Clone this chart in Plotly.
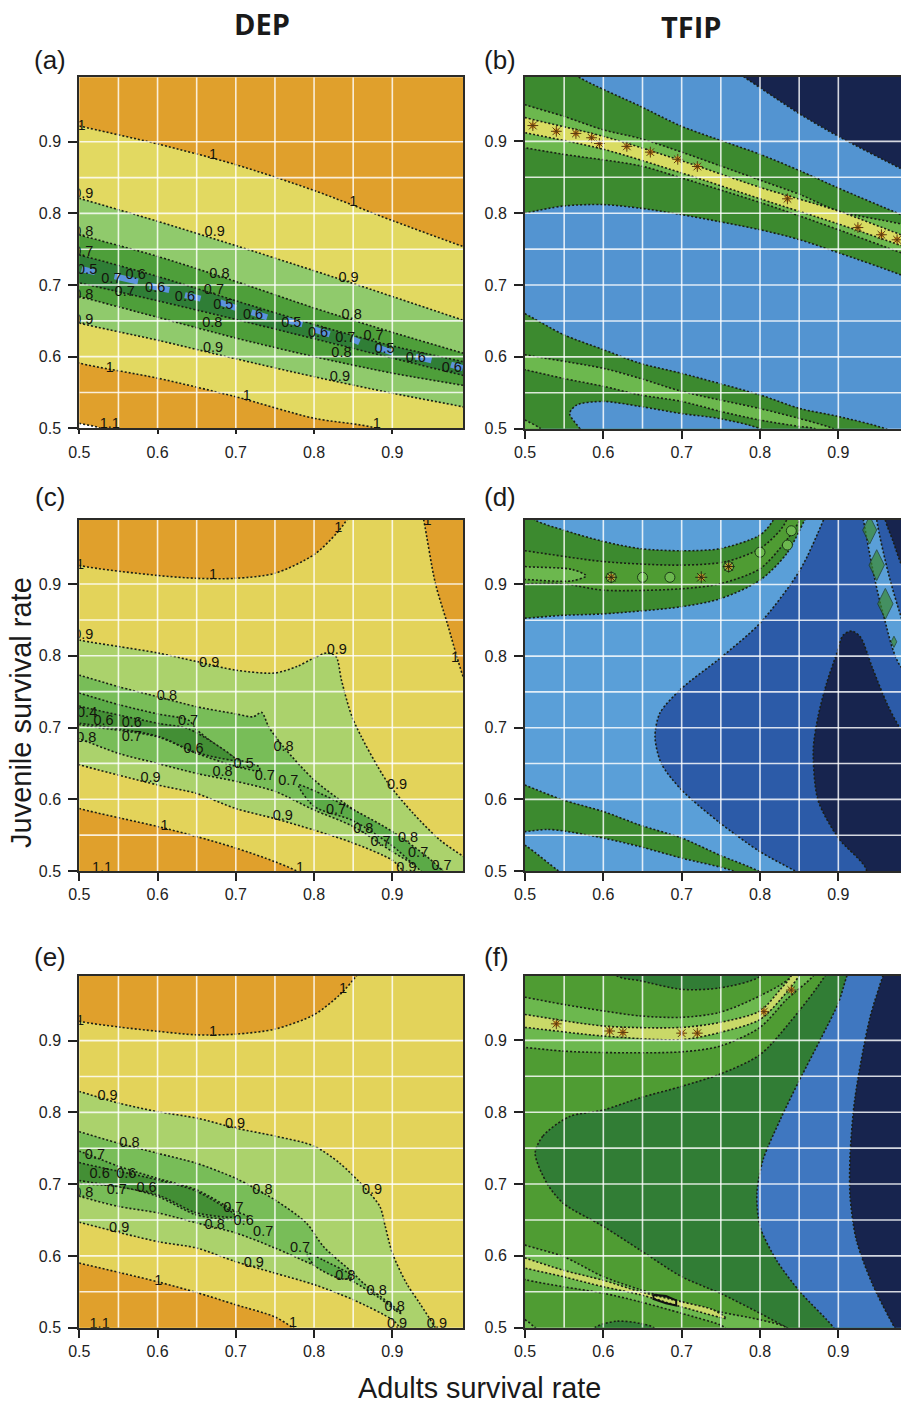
import plotly.graph_objects as go

# ---------- tick labels and text ----------
TICKS = [0.5, 0.6, 0.7, 0.8, 0.9]
GRID = [0.55, 0.6, 0.65, 0.7, 0.75, 0.8, 0.85, 0.9]
RECT = [(0.3, 0.3), (1.2, 0.3), (1.2, 1.2), (0.3, 1.2)]

# ---------- panel (a) contour lines ----------
A_1_UP = [(.46,.932),(.5,.922),(.6,.897),(.7,.868),(.8,.832),(.9,.79),(.99,.754),(1.03,.74)]
A_1_LO = [(.46,.605),(.5,.591),(.6,.57),(.7,.544),(.8,.514),(.88,.5),(1.05,.43)]
A_9_UP = [(.46,.833),(.5,.821),(.6,.789),(.7,.755),(.8,.72),(.9,.684),(.99,.651),(1.03,.636)]
A_9_LO = [(.46,.66),(.5,.647),(.6,.623),(.7,.597),(.8,.572),(.9,.549),(.99,.53),(1.03,.52)]
A_8_UP = [(.46,.782),(.5,.77),(.6,.74),(.7,.705),(.8,.668),(.9,.634),(.99,.605),(1.03,.592)]
A_8_LO = [(.46,.695),(.5,.684),(.6,.655),(.7,.626),(.8,.6),(.9,.577),(.99,.56),(1.03,.552)]
A_7_UP = [(.46,.752),(.5,.742),(.6,.712),(.7,.678),(.8,.645),(.9,.615),(.99,.593),(1.03,.582)]
A_7_LO = [(.46,.712),(.5,.703),(.6,.678),(.7,.652),(.8,.625),(.9,.598),(.99,.574),(1.03,.564)]
A_CORNER = [(.46,.52),(.5,.507),(.527,.5),(.55,.48),(.46,.48)]
A_SPOTS = [(.503,.722,.52,.718),(.545,.712,.575,.705),(.59,.699,.615,.693),(.635,.686,.655,.681),
           (.68,.676,.7,.668),(.72,.662,.74,.655),(.765,.651,.785,.645),(.8,.638,.82,.631),
           (.85,.624,.858,.62),(.88,.613,.9,.606),(.93,.6,.95,.595),(.975,.589,.99,.584)]
A_TEXT = [(.503,.922,"1"),(.671,.881,"1"),(.85,.815,"1"),(.505,.827,"0.9"),(.673,.773,"0.9"),(.844,.709,"0.9"),
          (.505,.773,"0.8"),(.679,.715,"0.8"),(.848,.658,"0.8"),(.505,.745,"0.7"),(.672,.693,"0.7"),(.876,.629,"0.7"),
          (.51,.72,"0.5"),(.572,.713,"0.6"),(.541,.708,"0.7"),(.558,.69,"0.7"),(.597,.695,"0.6"),(.635,.683,"0.6"),
          (.684,.672,"0.5"),(.722,.658,"0.6"),(.771,.646,"0.5"),(.805,.633,"0.6"),(.84,.626,"0.7"),(.89,.61,"0.5"),
          (.93,.598,"0.6"),(.976,.584,"0.6"),(.505,.686,"0.8"),(.67,.646,"0.8"),(.835,.604,"0.8"),
          (.505,.651,"0.9"),(.671,.611,"0.9"),(.833,.571,"0.9"),(.539,.584,"1"),(.714,.545,"1"),(.88,.505,"1"),(.539,.505,"1.1")]

# ---------- panel (b) ----------
B_NAVY = [(.75,1.01),(.779,.99),(.851,.938),(.9,.907),(.98,.862),(1.03,.835),(1.03,1.05),(.75,1.05)]
B_GREEN_UP = [(.47,1.05),(.52,1.03),(.568,.99),(.647,.949),(.7,.921),(.8,.882),(.851,.859),(.9,.835),(.98,.798),(1.03,.775)]
B_GREEN_LO = [(.46,.79),(.5,.8),(.549,.81),(.6,.812),(.647,.807),(.7,.798),(.8,.777),(.851,.763),(.9,.745),(.98,.714),(1.03,.69)]
B_LIGHT_UP = [(.46,.966),(.5,.951),(.549,.935),(.6,.916),(.647,.904),(.7,.885),(.8,.846),(.851,.826),(.9,.803),(.98,.785),(1.03,.77)]
B_LIGHT_LO = [(.46,.898),(.5,.891),(.549,.882),(.647,.866),(.7,.849),(.8,.815),(.851,.796),(.9,.777),(.98,.745),(1.03,.725)]
B_YEL_UP = [(.46,.945),(.5,.933),(.6,.907),(.7,.873),(.8,.836),(.9,.803),(.98,.77),(1.03,.75)]
B_YEL_LO = [(.46,.92),(.5,.912),(.6,.889),(.7,.856),(.8,.820),(.9,.785),(.98,.755),(1.03,.735)]
B_STARS_X = [.51,.54,.565,.585,.595,.63,.66,.695,.72,.835,.925,.955,.975]
B_STARS_Y = [.922,.914,.911,.905,.897,.893,.885,.875,.865,.82,.78,.77,.763]
B_LOW_GREEN = [(.47,.675),(.5,.66),(.549,.631),(.6,.61),(.647,.591),(.7,.577),(.8,.547),(.851,.528),(.9,.517),(.96,.5),(1.0,.48),(.47,.48)]
B_POCKET = [(.58,.48),(.57,.5),(.557,.521),(.566,.533),(.6,.538),(.647,.531),(.7,.521),(.749,.514),(.8,.5),(.83,.48)]
B_LOW_UP = [(.46,.612),(.5,.603),(.6,.584),(.647,.57),(.7,.552),(.8,.528),(.851,.514),(.894,.5),(.93,.48)]
B_LOW_LO = [(.46,.59),(.5,.582),(.549,.57),(.6,.559),(.647,.547),(.7,.538),(.75,.524),(.8,.512),(.851,.503),(.87,.5),(.9,.48)]
B_CORNER = [(.46,.53),(.5,.512),(.52,.5),(.54,.48),(.46,.48)]

# ---------- panel (c) ----------
C_OR_TOP = [(.46,.94),(.5,.926),(.6,.912),(.65,.908),(.7,.908),(.75,.915),(.8,.941),(.829,.971),(.842,.99),(.86,1.03),(.46,1.03)]
C_OR_RIGHT = [(.93,1.04),(.94,.99),(.955,.901),(.97,.846),(.991,.769),(1.03,.66),(1.05,.66),(1.05,1.04)]
C_OR_BOT = [(.46,.6),(.5,.587),(.6,.562),(.65,.548),(.7,.532),(.75,.513),(.778,.5),(.81,.48),(.46,.48)]
C_9_UP = [(.46,.835),(.5,.822),(.55,.813),(.6,.804),(.65,.792),(.7,.78),(.75,.776),(.778,.785),(.8,.797),(.816,.804),(.828,.799),
          (.835,.766),(.85,.711),(.893,.625),(.927,.58),(.961,.543),(.991,.52),(1.03,.49)]
C_9_LO = [(.46,.66),(.5,.648),(.6,.62),(.65,.608),(.7,.587),(.75,.573),(.8,.557),(.85,.539),(.9,.515),(.914,.5),(.94,.47)]
C_8_UP = [(.46,.785),(.5,.773),(.55,.757),(.6,.743),(.65,.729),(.7,.719),(.722,.715),(.733,.721),(.742,.701),(.761,.673),(.8,.627),(.842,.592),
          (.9,.548),(.952,.506),(.96,.5),(.98,.48)]
C_8_LO = [(.46,.695),(.5,.684),(.55,.664),(.6,.65),(.65,.636),(.7,.625),(.75,.611),(.8,.585),(.85,.562),(.9,.527),(.94,.5),(.96,.48)]
C_7_UP = [(.46,.76),(.5,.748),(.55,.732),(.6,.719),(.64,.71),(.65,.697),(.7,.657),(.73,.645)]
C_7_LO = [(.46,.715),(.5,.704),(.6,.687),(.65,.664),(.7,.646),(.73,.64)]
C_7_RIGHT = [(.78,.62),(.8,.612),(.842,.59),(.9,.555),(.955,.51),(.97,.49),(.95,.49),(.9,.535),(.85,.57),(.8,.59)]
C_6 = [(.47,.74),(.5,.73),(.6,.706),(.64,.698),(.7,.655),(.65,.665),(.6,.688),(.5,.706),(.47,.71)]
C_TEXT = [(.501,.926,"1"),(.671,.912,"1"),(.831,.978,"1"),(.945,.987,"1"),(.98,.797,"1"),(.505,.829,"0.9"),(.666,.789,"0.9"),(.829,.808,"0.9"),
          (.906,.619,"0.9"),(.591,.629,"0.9"),(.76,.576,"0.9"),(.918,.504,"0.9"),(.612,.744,"0.8"),(.761,.673,"0.8"),(.683,.637,"0.8"),
          (.509,.685,"0.8"),(.863,.558,"0.8"),(.92,.545,"0.8"),(.639,.708,"0.7"),(.567,.686,"0.7"),(.737,.632,"0.7"),(.767,.625,"0.7"),
          (.828,.584,"0.7"),(.933,.524,"0.7"),(.963,.506,"0.7"),(.531,.708,"0.6"),(.567,.706,"0.6"),(.646,.67,"0.6"),(.71,.648,"0.5"),
          (.609,.562,"1"),(.782,.504,"1"),(.529,.504,"1.1"),(.51,.72,"0.4"),(.885,.54,"0.7")]

# ---------- panel (d) ----------
D_MID = [(.895,1.03),(.881,.99),(.851,.92),(.8,.846),(.749,.797),(.7,.755),(.672,.72),(.666,.687),(.674,.65),(.7,.613),(.749,.567),(.8,.527),(.845,.5),(.88,.48),
         (1.04,.48),(1.04,.74),(.98,.785),(.957,.86),(.945,.915),(.932,.99),(.925,1.03)]
D_MID_R = [(.945,1.04),(.949,.99),(.964,.915),(.98,.855),(1.03,.7),(1.05,.7),(1.05,1.04)]
D_NAVY_R = [(.955,1.03),(.96,.99),(.97,.96),(.98,.929),(1.03,.82),(1.05,.8),(1.05,1.03)]
D_NAVY = [(.915,.47),(.936,.5),(.9,.546),(.874,.599),(.868,.669),(.874,.715),(.885,.762),(.898,.804),(.906,.829),(.917,.835),(.928,.827),(.943,.785),
          (.962,.734),(.98,.697),(1.03,.62),(1.05,.47)]
D_BLOB_X = [.94,.949,.96,.971]
D_BLOB_Y = [.976,.927,.873,.82]
D_BLOB_S = [20,22,22,8]
D_TOP_OUT = [(.47,1.03),(.513,.99),(.549,.976),(.6,.96),(.647,.95),(.7,.947),(.749,.95),(.8,.969),(.817,.99),(.83,1.03)]
D_TOP_IN = [(.46,.852),(.5,.853),(.549,.857),(.6,.859),(.7,.869),(.749,.88),(.8,.906),(.834,.943),(.857,.99),(.875,1.03)]
D_MIDG_UP = [(.46,.952),(.5,.947),(.6,.932),(.7,.927),(.757,.932),(.8,.95),(.826,.976),(.834,.99),(.85,1.03)]
D_MIDG_LO = [(.46,.9),(.5,.901),(.549,.901),(.6,.892),(.7,.894),(.749,.901),(.8,.922),(.834,.962),(.851,.99),(.87,1.03)]
D_LIGHT = [(.46,.93),(.5,.925),(.56,.921),(.578,.912),(.56,.905),(.5,.907),(.46,.91)]
D_SPOT_X = [.61,.65,.685,.76,.8,.84,.835]
D_SPOT_Y = [.91,.91,.91,.925,.945,.975,.955]
D_DARK_X = [.61,.725,.76]
D_DARK_Y = [.91,.91,.925]
D_LOW_UP = [(.46,.64),(.5,.62),(.549,.599),(.6,.583),(.647,.564),(.7,.546),(.749,.522),(.798,.5),(.83,.48)]
D_LOW_LO = [(.46,.55),(.5,.555),(.528,.558),(.549,.556),(.6,.546),(.647,.534),(.7,.518),(.766,.5),(.8,.48)]
D_CORNER = [(.46,.56),(.5,.536),(.543,.5),(.57,.48),(.46,.48)]

# ---------- panel (e) ----------
E_OR_TOP = [(.46,.94),(.5,.927),(.55,.919),(.6,.913),(.65,.908),(.7,.909),(.75,.916),(.8,.936),(.833,.964),(.854,.99),(.88,1.03),(.46,1.03)]
E_OR_BOT = [(.46,.6),(.5,.59),(.6,.564),(.65,.549),(.7,.532),(.75,.515),(.773,.5),(.8,.48),(.46,.48)]
E_9_UP = [(.46,.84),(.5,.829),(.55,.813),(.6,.801),(.65,.792),(.7,.778),(.75,.767),(.8,.753),(.833,.729),(.863,.697),(.884,.669),(.891,.641),
          (.9,.604),(.918,.562),(.935,.534),(.955,.5),(.97,.47)]
E_9_LO = [(.46,.66),(.5,.647),(.6,.62),(.65,.611),(.7,.592),(.75,.576),(.8,.56),(.85,.539),(.9,.511),(.91,.5),(.93,.47)]
E_8_UP = [(.46,.785),(.5,.773),(.55,.757),(.6,.743),(.65,.729),(.7,.708),(.75,.678),(.79,.646),(.812,.613),(.85,.576),(.863,.562),(.912,.52)]
E_8_LO = [(.46,.695),(.5,.683),(.55,.669),(.6,.66),(.65,.646),(.7,.632),(.75,.611),(.8,.587),(.85,.564),(.884,.541),(.91,.52)]
E_7_UP = [(.46,.76),(.5,.746),(.55,.725),(.6,.708),(.65,.692),(.7,.662),(.715,.655)]
E_7_LO = [(.46,.712),(.5,.701),(.55,.697),(.6,.683),(.65,.657),(.7,.65),(.715,.65)]
E_7_RIGHT = [(.79,.605),(.812,.594),(.85,.571),(.835,.568),(.8,.587)]
E_6 = [(.47,.74),(.5,.73),(.6,.706),(.65,.69),(.7,.655),(.65,.66),(.6,.685),(.5,.705),(.47,.71)]
E_TEXT = [(.501,.927,"1"),(.671,.911,"1"),(.837,.971,"1"),(.536,.822,"0.9"),(.699,.783,"0.9"),(.874,.691,"0.9"),(.551,.639,"0.9"),(.723,.59,"0.9"),
          (.906,.504,"0.9"),(.957,.505,"0.9"),(.564,.757,"0.8"),(.734,.692,"0.8"),(.673,.642,"0.8"),(.505,.687,"0.8"),(.84,.571,"0.8"),
          (.88,.551,"0.8"),(.903,.529,"0.8"),(.52,.74,"0.7"),(.697,.666,"0.7"),(.735,.633,"0.7"),(.782,.611,"0.7"),(.548,.692,"0.7"),
          (.586,.694,"0.6"),(.56,.714,"0.6"),(.526,.713,"0.6"),(.71,.648,"0.6"),(.601,.564,"1"),(.773,.506,"1"),(.526,.504,"1.1")]

# ---------- panel (f) ----------
F_DARK = [(.513,.743),(.523,.767),(.557,.794),(.6,.803),(.647,.82),(.7,.836),(.749,.853),(.8,.88),(.838,.925),(.883,.99),(.9,1.03),
          (1.05,1.03),(1.05,.47),(.85,.49),(.834,.5),(.8,.52),(.749,.548),(.7,.571),(.647,.608),(.6,.641),(.549,.673),(.528,.701)]
F_BLUE = [(.925,1.03),(.911,.99),(.9,.952),(.877,.901),(.851,.846),(.826,.79),(.804,.734),(.796,.687),(.8,.641),(.821,.594),(.851,.55),(.894,.5),(.91,.47),(1.05,.47),(1.05,1.03)]
F_NAVY = [(.97,1.03),(.957,.99),(.94,.93),(.921,.818),(.915,.739),(.915,.683),(.923,.622),(.943,.562),(.972,.5),(.99,.47),(1.05,.47),(1.05,1.03)]
F_CAP_TOP = [(.6,1.02),(.617,.99),(.647,.983),(.7,.971),(.749,.973),(.8,.989),(.82,1.02)]
F_CAP_BOT = [(.575,.47),(.589,.5),(.617,.509),(.647,.506),(.664,.5),(.68,.47)]
F_L_UP = [(.46,.968),(.5,.96),(.549,.95),(.6,.941),(.647,.934),(.7,.932),(.749,.939),(.8,.962),(.838,.987),(.86,1.03)]
F_L_LO = [(.46,.892),(.5,.89),(.549,.885),(.6,.883),(.7,.884),(.749,.892),(.8,.918),(.834,.957),(.868,.99),(.89,1.03)]
F_Y_UP = [(.46,.942),(.5,.936),(.6,.92),(.7,.918),(.749,.925),(.8,.941),(.826,.971),(.84,.99),(.85,1.03)]
F_Y_LO = [(.46,.922),(.5,.918),(.6,.906),(.7,.901),(.749,.911),(.8,.929),(.834,.967),(.85,.99),(.87,1.03)]
F_STARS_X = [.54,.608,.625,.7,.72,.805,.84]
F_STARS_Y = [.923,.913,.911,.91,.91,.94,.97]
F_LOW_UP = [(.46,.63),(.5,.615),(.549,.599),(.6,.571),(.647,.553),(.7,.536),(.749,.522),(.8,.511),(.834,.5),(.86,.47)]
F_LOW_LO = [(.46,.58),(.5,.567),(.549,.557),(.6,.548),(.647,.536),(.7,.52),(.749,.504),(.755,.5),(.78,.47)]
F_Y2_UP = [(.46,.61),(.5,.597),(.549,.58),(.6,.566),(.647,.55),(.7,.536),(.74,.525)]
F_Y2_LO = [(.46,.595),(.5,.583),(.549,.571),(.6,.557),(.647,.546),(.7,.529),(.757,.513)]
F_LOOP = [(.664,.546),(.68,.544),(.693,.538),(.693,.531),(.68,.534),(.664,.54),(.664,.546)]
F_CORNER = [(.46,.53),(.5,.511),(.513,.5),(.53,.48),(.46,.48)]

# ---------- colours ----------
ORANGE = "#E0A02C"; YEL_A = "#E2D961"; YEL_C = "#E3D35A"; LG_A = "#90CA6C"; MG_A = "#4E9F3A"; DG_A = "#2F7E36"
LG_C = "#ABD26C"; MG_C = "#78BD58"; DG_C = "#5BAA47"; VG_C = "#438F35"
BLUE_B = "#5394D1"; NAVY = "#17244E"; GRN = "#3C8A2F"; LG_B = "#6CB84E"; PALE = "#D9DC62"
BLUE_D = "#5A9FD8"; MID_D = "#2C5BA8"; GRN_F = "#4F9C33"; DRK_F = "#317D35"; BLUE_F = "#3F77C0"; PALE_F = "#C9D968"
SPOT = "#5B93DC"


def band(up, lo):
    return up + lo[::-1]


PANELS = [
    dict(name="a", px=(79.3, 463.3), py=(77.3, 428.3), xr=.9907, layers=[
        (ORANGE, RECT), (YEL_A, band(A_1_UP, A_1_LO)), (LG_A, band(A_9_UP, A_9_LO)), (MG_A, band(A_8_UP, A_8_LO)),
        (DG_A, band(A_7_UP, A_7_LO)), ("#FFFFFF", A_CORNER)], text=A_TEXT, ticklen=4),
    dict(name="b", px=(525, 901), py=(76.7, 428.7), xr=.98, layers=[
        (BLUE_B, RECT), (NAVY, B_NAVY), (GRN, band(B_GREEN_UP, B_GREEN_LO)), (LG_B, band(B_LIGHT_UP, B_LIGHT_LO)),
        (PALE, band(B_YEL_UP, B_YEL_LO)), (GRN, B_LOW_GREEN), (BLUE_B, B_POCKET), (LG_B, band(B_LOW_UP, B_LOW_LO)), (LG_B, B_CORNER)],
        text=[], ticklen=8, stars=(B_STARS_X, B_STARS_Y)),
    dict(name="c", px=(79.3, 463.3), py=(519.5, 871), xr=.9907, layers=[
        (YEL_C, RECT), (ORANGE, C_OR_TOP), (ORANGE, C_OR_RIGHT), (ORANGE, C_OR_BOT), (LG_C, band(C_9_UP, C_9_LO)),
        (MG_C, band(C_8_UP, C_8_LO)), (DG_C, band(C_7_UP, C_7_LO)), (DG_C, C_7_RIGHT), (VG_C, C_6)], text=C_TEXT, ticklen=8),
    dict(name="d", px=(525, 901), py=(520, 871), xr=.98, layers=[
        (BLUE_D, RECT), (MID_D, D_MID), (MID_D, D_MID_R), (NAVY, D_NAVY_R), (NAVY, D_NAVY), (GRN, band(D_TOP_IN, D_TOP_OUT)),
        (GRN_F, band(D_MIDG_UP, D_MIDG_LO)), (LG_B, D_LIGHT), (GRN, band(D_LOW_UP, D_LOW_LO)), (GRN, D_CORNER)],
        text=[], ticklen=8, blobs=(D_BLOB_X, D_BLOB_Y, D_BLOB_S), spots=(D_SPOT_X, D_SPOT_Y), darks=(D_DARK_X, D_DARK_Y)),
    dict(name="e", px=(79.3, 463.3), py=(976, 1327.7), xr=.9907, layers=[
        (YEL_C, RECT), (ORANGE, E_OR_TOP), (ORANGE, E_OR_BOT), (LG_C, band(E_9_UP, E_9_LO)), (MG_C, band(E_8_UP, E_8_LO)),
        (DG_C, band(E_7_UP, E_7_LO)), (DG_C, E_7_RIGHT), (VG_C, E_6)], text=E_TEXT, ticklen=8),
    dict(name="f", px=(525, 901), py=(975.7, 1327.7), xr=.98, layers=[
        (GRN_F, RECT), (DRK_F, F_DARK), (BLUE_F, F_BLUE), (NAVY, F_NAVY), (DRK_F, F_CAP_TOP), (DRK_F, F_CAP_BOT),
        (LG_B, band(F_L_UP, F_L_LO)), (PALE_F, band(F_Y_UP, F_Y_LO)), (LG_B, band(F_LOW_UP, F_LOW_LO)),
        (PALE_F, band(F_Y2_UP, F_Y2_LO)), (LG_B, F_CORNER)],
        text=[], ticklen=8, stars=(F_STARS_X, F_STARS_Y), loop=F_LOOP),
]

W, H = 901, 1403
fig = go.Figure()
layout_axes = {}


def speckle(x, y, xa, ya, fill, size, ink="#2a2a10"):
    fig.add_trace(go.Scatter(x=x, y=y, mode="markers", xaxis=xa, yaxis=ya, hoverinfo="skip",
                             marker=dict(color=fill, size=size, symbol="circle", line=dict(width=0))))
    fig.add_trace(go.Scatter(x=x, y=y, mode="markers", xaxis=xa, yaxis=ya, hoverinfo="skip",
                             marker=dict(color=ink, size=size + 3, symbol="asterisk-open", line=dict(color=ink, width=1))))


for i, p in enumerate(PANELS):
    n = "" if i == 0 else str(i + 1)
    xa, ya = "x" + n, "y" + n
    for color, pts in p["layers"]:
        is_rect = pts is RECT
        fig.add_trace(go.Scatter(
            x=[q[0] for q in pts] + [pts[0][0]], y=[q[1] for q in pts] + [pts[0][1]],
            mode="lines", fill="toself", fillcolor=color, xaxis=xa, yaxis=ya, hoverinfo="skip",
            line=dict(color="rgba(0,0,0,0)" if is_rect else "#1a1f16", width=1.6, dash="2px,2px",
                      shape="linear" if is_rect else "spline", smoothing=0.8)))
    if p["name"] == "a":
        xs, ys = [], []
        for x0, y0, x1, y1 in A_SPOTS:
            xs += [x0, x1, None]
            ys += [y0, y1, None]
        fig.add_trace(go.Scatter(x=xs, y=ys, mode="lines", xaxis=xa, yaxis=ya, hoverinfo="skip",
                                 line=dict(color=SPOT, width=6)))
    if "blobs" in p:
        bx, by, bs = p["blobs"]
        fig.add_trace(go.Scatter(x=bx, y=by, mode="markers", xaxis=xa, yaxis=ya, hoverinfo="skip",
                                 marker=dict(color=GRN, size=bs, symbol="diamond-tall",
                                             line=dict(color="#1c3a18", width=1))))
    if "spots" in p:
        sx, sy = p["spots"]
        fig.add_trace(go.Scatter(x=sx, y=sy, mode="markers", xaxis=xa, yaxis=ya, hoverinfo="skip",
                                 marker=dict(color=LG_B, size=10, symbol="circle",
                                             line=dict(color="#1c3a18", width=1))))
    if "darks" in p:
        speckle(p["darks"][0], p["darks"][1], xa, ya, "#C79A2C", 7)
    if "stars" in p:
        speckle(p["stars"][0], p["stars"][1], xa, ya, ORANGE, 6, "#5a3a10")
    if "loop" in p:
        fig.add_trace(go.Scatter(x=[q[0] for q in p["loop"]], y=[q[1] for q in p["loop"]], mode="lines",
                                 xaxis=xa, yaxis=ya, hoverinfo="skip", line=dict(color="#111", width=2)))
    # white reference lines sit above the fill
    gx, gy = [], []
    for g in GRID:
        gx += [g, g, None]
        gy += [.5, .99, None]
        gx += [.5, p["xr"], None]
        gy += [g, g, None]
    fig.add_trace(go.Scatter(x=gx, y=gy, mode="lines", xaxis=xa, yaxis=ya, hoverinfo="skip",
                             line=dict(color="rgba(255,255,255,0.82)", width=1.6)))
    if p["text"]:
        fig.add_trace(go.Scatter(x=[t[0] for t in p["text"]], y=[t[1] for t in p["text"]], text=[t[2] for t in p["text"]],
                                 mode="text", xaxis=xa, yaxis=ya, hoverinfo="skip",
                                 textfont=dict(family="Liberation Sans", size=14.5, color="#14140c")))
    common = dict(tickmode="array", tickvals=TICKS, ticktext=[str(t) for t in TICKS], showgrid=False, zeroline=False,
                  showline=True, mirror=True, linecolor="#2b2b28", linewidth=2, ticks="outside", tickwidth=2,
                  tickcolor="#222", tickfont=dict(family="Liberation Sans", size=16, color="#222"))
    layout_axes["xaxis" + n] = dict(common, domain=[p["px"][0] / W, p["px"][1] / W], range=[.5, p["xr"]],
                                    anchor=ya, ticklen=p["ticklen"], ticklabelstandoff=8 - p["ticklen"])
    layout_axes["yaxis" + n] = dict(common, domain=[1 - p["py"][1] / H, 1 - p["py"][0] / H], range=[.5, .99],
                                    anchor=xa, ticklen=9, ticklabelstandoff=4)


def note(x, y, text, size, family="Liberation Sans", color="#1a1a1a", **kw):
    return dict(x=x / W, y=1 - y / H, xref="paper", yref="paper", text=text, showarrow=False,
                font=dict(family=family, size=size, color=color), xanchor="center", yanchor="middle", **kw)


annotations = [
    note(262, 23, "<b>DEP</b>", 29, "Open Sans"), note(691, 26, "<b>TFIP</b>", 29, "Open Sans"),
    note(50, 60, "(a)", 26), note(500, 60, "(b)", 26), note(50, 497, "(c)", 26), note(500, 497, "(d)", 26),
    note(50, 957, "(e)", 26), note(496, 957, "(f)", 26),
    note(21, 713, "Juvenile survival rate", 29, textangle=-90),
    note(479, 1388, "Adults survival rate", 28.8),
]

fig.update_layout(width=W, height=H, margin=dict(l=0, r=0, t=0, b=0, autoexpand=False), showlegend=False,
                  paper_bgcolor="white", plot_bgcolor="white", annotations=annotations, **layout_axes)

fig.write_html("out.html", config={"displayModeBar": False},
               post_script="document.body.style.margin='0';")
